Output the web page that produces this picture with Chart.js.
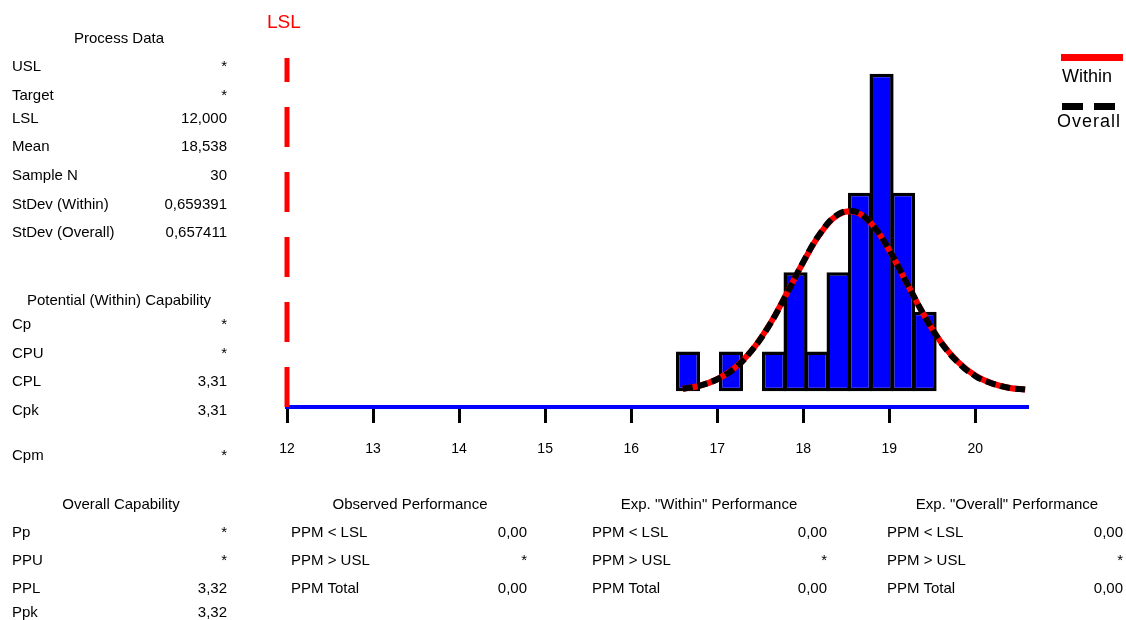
<!DOCTYPE html>
<html>
<head>
<meta charset="utf-8">
<title>Process Capability</title>
<script src="https://cdn.jsdelivr.net/npm/chart.js@4.4.1/dist/chart.umd.min.js"></script>
<style>
    html, body { margin: 0; padding: 0; background: #fff; }
    #wrap { position: relative; width: 1126px; height: 620px; overflow: hidden; font-family: "Liberation Sans", Arial, sans-serif; color: #000; }
    #wrap canvas { position: absolute; left: 0; top: 0; }
    .t { position: absolute; font-size: 15px; line-height: 20px; white-space: nowrap; }
    .sw { position: absolute; }
</style>
</head>
<body>
<div id="wrap"><canvas id="capChart" width="1126" height="620"></canvas></div>
<script>
// histogram bins (centers) and counts
const binCenters = [16.66, 16.91, 17.16, 17.41, 17.66, 17.91, 18.16, 18.41, 18.66, 18.91, 19.16, 19.41];
const binCounts = [1, 0, 1, 0, 1, 3, 1, 3, 5, 8, 5, 2];

// fitted curves
const curveX = [16.6, 16.8, 17.0, 17.2, 17.4, 17.6, 17.8, 18.0, 18.2, 18.4, 18.6, 18.8, 19.0, 19.2, 19.4, 19.6, 19.8, 20.0, 20.2, 20.4, 20.58];
const withinY = [0.06, 0.14, 0.30, 0.58, 1.02, 1.65, 2.43, 3.25, 3.98, 4.44, 4.52, 4.20, 3.55, 2.74, 1.93, 1.24, 0.73, 0.39, 0.19, 0.08, 0.04];
const overallY = [0.06, 0.14, 0.30, 0.57, 1.02, 1.64, 2.42, 3.26, 3.99, 4.45, 4.53, 4.20, 3.56, 2.74, 1.93, 1.23, 0.72, 0.38, 0.19, 0.08, 0.04];

const tickValues = [12, 13, 14, 15, 16, 17, 18, 19, 20];
const lslValue = 12;

// text tables
const processLabels = ['USL', 'Target', 'LSL', 'Mean', 'Sample N', 'StDev (Within)', 'StDev (Overall)'];
const processValues = ['*', '*', '12,000', '18,538', '30', '0,659391', '0,657411'];
const potentialLabels = ['Cp', 'CPU', 'CPL', 'Cpk', 'Cpm'];
const potentialValues = ['*', '*', '3,31', '3,31', '*'];
const overallLabels = ['Pp', 'PPU', 'PPL', 'Ppk'];
const overallValues = ['*', '*', '3,32', '3,32'];
const perfLabels = ['PPM < LSL', 'PPM > USL', 'PPM Total'];
const observedValues = ['0,00', '*', '0,00'];
const expWithinValues = ['0,00', '*', '0,00'];
const expOverallValues = ['0,00', '*', '0,00'];

const wrap = document.getElementById('wrap');

function addText(text, x, cy, align, extra) {
    const el = document.createElement('div');
    el.className = 't';
    el.textContent = text;
    el.style.top = (cy - 10) + 'px';
    if (align === 'right') {
        el.style.right = (1126 - x) + 'px';
    } else if (align === 'center') {
        el.style.left = x + 'px';
        el.style.transform = 'translateX(-50%)';
    } else {
        el.style.left = x + 'px';
    }
    if (extra) Object.assign(el.style, extra);
    wrap.appendChild(el);
    return el;
}

function addBlock(title, titleX, titleY, labels, values, labelX, valueX, rowsY) {
    addText(title, titleX, titleY, 'center');
    labels.forEach((lab, i) => {
        addText(lab, labelX, rowsY[i], 'left');
        addText(values[i], valueX, rowsY[i], 'right');
    });
}

function addSwatch(x, y, w, h, color) {
    const el = document.createElement('div');
    el.className = 'sw';
    Object.assign(el.style, { left: x + 'px', top: y + 'px', width: w + 'px', height: h + 'px', background: color });
    wrap.appendChild(el);
}

addBlock('Process Data', 119, 38, processLabels, processValues, 12, 227, [66, 95, 118, 146, 175, 204, 232]);
addBlock('Potential (Within) Capability', 119, 300, potentialLabels, potentialValues, 12, 227, [324, 353, 381, 410, 455]);
addBlock('Overall Capability', 121, 504, overallLabels, overallValues, 12, 227, [532, 560, 588, 612]);
addBlock('Observed Performance', 410, 504, perfLabels, observedValues, 291, 527, [532, 560, 588]);
addBlock('Exp. "Within" Performance', 709, 504, perfLabels, expWithinValues, 592, 827, [532, 560, 588]);
addBlock('Exp. "Overall" Performance', 1007, 504, perfLabels, expOverallValues, 887, 1123, [532, 560, 588]);

// LSL label and legend
addText('LSL', 267, 22, 'left', { color: '#FF0000', fontSize: '19px', lineHeight: '20px' });
addSwatch(1061, 54, 62, 7, '#FF0000');
addText('Within', 1062, 76, 'left', { fontSize: '18px' });
addSwatch(1062, 103, 21, 7, '#000000');
addSwatch(1094, 103, 21, 7, '#000000');
addText('Overall', 1057, 121, 'left', { fontSize: '18px', letterSpacing: '1px' });

const ctx = document.getElementById('capChart').getContext('2d');
new Chart(ctx, {
    type: 'bar',
    data: {
        datasets: [
            {
                type: 'line',
                label: 'Overall',
                data: curveX.map((x, i) => ({ x: x, y: overallY[i] })),
                borderColor: '#000000',
                borderWidth: 6,
                borderDash: [10, 5],
                pointRadius: 0,
                tension: 0.4,
                order: 0
            },
            {
                type: 'line',
                label: 'Within',
                data: curveX.map((x, i) => ({ x: x, y: withinY[i] })),
                borderColor: '#FF0000',
                borderWidth: 6,
                pointRadius: 0,
                tension: 0.4,
                order: 1
            },
            {
                label: 'Counts',
                data: binCenters.map((x, i) => ({ x: x, y: binCounts[i] })),
                backgroundColor: '#0000FF',
                borderColor: '#000000',
                borderWidth: 3.5,
                borderSkipped: false,
                barPercentage: 1.12,
                categoryPercentage: 1,
                order: 2
            },
            {
                type: 'line',
                label: 'LSL',
                data: [{ x: lslValue, y: -0.4 }, { x: lslValue, y: 8.4 }],
                borderColor: '#FF0000',
                borderWidth: 5,
                borderDash: [40, 25],
                pointRadius: 0,
                clip: false,
                order: 3
            }
        ]
    },
    options: {
        responsive: false,
        animation: false,
        layout: { padding: { left: 287, right: 99, top: 58, bottom: 153 } },
        plugins: {
            legend: { display: false },
            tooltip: { enabled: false }
        },
        scales: {
            x: {
                type: 'linear',
                min: 12,
                max: 20.6,
                offset: false,
                afterBuildTicks: (scale) => {
                    scale.ticks = tickValues.map(v => ({ value: v }));
                },
                afterFit: (scale) => {
                    scale.height = 60;
                },
                grid: {
                    display: true,
                    offset: false,
                    drawOnChartArea: false,
                    drawTicks: true,
                    tickLength: 16,
                    color: '#000000',
                    lineWidth: 3
                },
                border: { display: true, color: '#0000FF', width: 4 },
                ticks: {
                    color: '#000000',
                    padding: 18,
                    maxRotation: 0,
                    font: { family: 'Liberation Sans', size: 14 },
                    callback: (v) => String(v)
                }
            },
            y: {
                display: false,
                min: -0.4,
                max: 8.4
            }
        }
    }
});
</script>
</body>
</html>
